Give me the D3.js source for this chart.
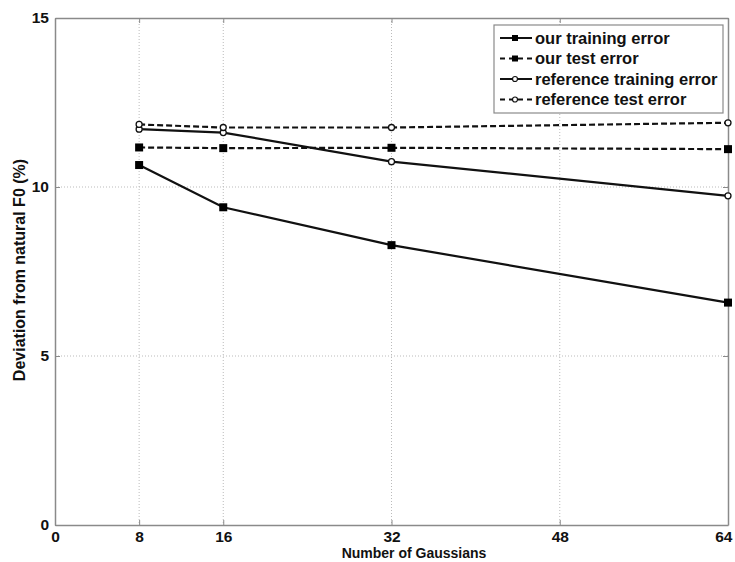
<!DOCTYPE html>
<html>
<head>
<meta charset="utf-8">
<script src="https://cdn.jsdelivr.net/npm/d3@7"></script>
<style>
  body { margin: 0; background: #fff; }
  svg { font-family: "Liberation Sans", Arial, sans-serif; }
</style>
</head>
<body>
<div id="app"></div>
<script>
// data
const gaussians = [8, 16, 32, 64]
const ourTrain = [10.65, 9.40, 8.28, 6.58]
const ourTest = [11.17, 11.15, 11.16, 11.12]
const refTrain = [11.71, 11.61, 10.75, 9.74]
const refTest = [11.85, 11.76, 11.76, 11.90]
const xTicks = [0, 8, 16, 32, 48, 64]
const yTicks = [0, 5, 10, 15]

const series = [
    {name: 'our training error', values: ourTrain, dash: null, filled: true},
    {name: 'our test error', values: ourTest, dash: '6,3', filled: true},
    {name: 'reference training error', values: refTrain, dash: null, filled: false},
    {name: 'reference test error', values: refTest, dash: '6,3', filled: false}
]

const width = 735, height = 562
const margin = {top: 18, right: 7, bottom: 37, left: 55}
const w = width - margin.left - margin.right
const h = height - margin.top - margin.bottom
const axisColor = '#8a8a8a'

const svg = d3.select('#app').append('svg')
    .attr('width', width)
    .attr('height', height)

const g = svg.append('g')
    .attr('transform', 'translate(' + margin.left + ',' + margin.top + ')')

const x = d3.scaleLinear().domain([0, 64]).range([0, w])
const y = d3.scaleLinear().domain([0, 15]).range([h, 0])

// grid
g.append('g').selectAll('line')
    .data(xTicks.filter(d => d > 0 && d < 64))
    .enter().append('line')
    .attr('x1', d => x(d)).attr('x2', d => x(d))
    .attr('y1', 0).attr('y2', h)
    .attr('stroke', '#bbb').attr('stroke-dasharray', '1,2')
g.append('g').selectAll('line')
    .data(yTicks.filter(d => d > 0 && d < 15))
    .enter().append('line')
    .attr('y1', d => y(d)).attr('y2', d => y(d))
    .attr('x1', 0).attr('x2', w)
    .attr('stroke', '#bbb').attr('stroke-dasharray', '1,2')

// axes (ticks inside, MATLAB style)
const xAxis = g.append('g')
    .attr('transform', 'translate(0,' + h + ')')
    .call(d3.axisBottom(x).tickValues(xTicks).tickSizeInner(-5).tickSizeOuter(0).tickPadding(6))
const yAxis = g.append('g')
    .call(d3.axisLeft(y).tickValues(yTicks).tickSizeInner(-5).tickSizeOuter(0).tickPadding(6))
const xTop = g.append('g')
    .call(d3.axisTop(x).tickValues(xTicks).tickSizeInner(-5).tickSizeOuter(0).tickFormat(''))
const yRight = g.append('g')
    .attr('transform', 'translate(' + w + ',0)')
    .call(d3.axisRight(y).tickValues(yTicks).tickSizeInner(-5).tickSizeOuter(0).tickFormat(''))

;[xAxis, yAxis, xTop, yRight].forEach(a => {
    a.selectAll('path').attr('stroke', axisColor).attr('stroke-width', 1.5)
    a.selectAll('line').attr('stroke', axisColor)
    a.selectAll('text')
        .attr('fill', '#111')
        .style('font-size', '15.5px')
        .style('font-weight', 'bold')
})
// keep the last x label inside the window
xAxis.selectAll('.tick text').filter(d => d === 64).attr('text-anchor', 'end').attr('dx', '0.25em')

// lines + markers
const line = d3.line()
    .x((d, i) => x(gaussians[i]))
    .y(d => y(d))

series.forEach(s => {
    g.append('path')
        .datum(s.values)
        .attr('d', line)
        .attr('fill', 'none')
        .attr('stroke', '#111')
        .attr('stroke-width', 2.2)
        .attr('stroke-dasharray', s.dash)
    const m = g.append('g').selectAll('.m')
        .data(s.values)
        .enter()
    if (s.filled) {
        m.append('rect')
            .attr('x', (d, i) => x(gaussians[i]) - 4)
            .attr('y', d => y(d) - 4)
            .attr('width', 8).attr('height', 8)
            .attr('fill', '#000')
    } else {
        m.append('circle')
            .attr('cx', (d, i) => x(gaussians[i]))
            .attr('cy', d => y(d))
            .attr('r', 3)
            .attr('fill', '#fff')
            .attr('stroke', '#111')
            .attr('stroke-width', 1.3)
    }
})

// legend
const lg = svg.append('g').attr('transform', 'translate(494,25)')
lg.append('rect')
    .attr('width', 229).attr('height', 88)
    .attr('fill', '#fff')
    .attr('stroke', axisColor)
    .attr('stroke-width', 1.2)
series.forEach((s, i) => {
    const row = lg.append('g').attr('transform', 'translate(0,' + (13 + i * 20.5) + ')')
    row.append('line')
        .attr('x1', 6).attr('x2', 38)
        .attr('stroke', '#111').attr('stroke-width', 2)
        .attr('stroke-dasharray', s.dash ? '5,4' : null)
    if (s.filled) {
        row.append('rect').attr('x', 18).attr('y', -3).attr('width', 6).attr('height', 6).attr('fill', '#000')
    } else {
        row.append('circle').attr('cx', 21).attr('r', 2.5).attr('fill', '#fff').attr('stroke', '#111').attr('stroke-width', 1.2)
    }
    row.append('text')
        .attr('x', 41).attr('dy', '0.35em')
        .text(s.name)
        .style('font-size', '16.5px')
        .style('font-weight', 'bold')
        .attr('fill', '#111')
})

// axis titles
svg.append('text')
    .attr('x', 414).attr('y', 558)
    .attr('text-anchor', 'middle')
    .style('font-size', '14px').style('font-weight', 'bold')
    .attr('fill', '#111')
    .text('Number of Gaussians')
svg.append('text')
    .attr('transform', 'translate(25,270) rotate(-90)')
    .attr('text-anchor', 'middle')
    .style('font-size', '16px').style('font-weight', 'bold')
    .attr('fill', '#111')
    .text('Deviation from natural F0 (%)')
</script>
</body>
</html>
